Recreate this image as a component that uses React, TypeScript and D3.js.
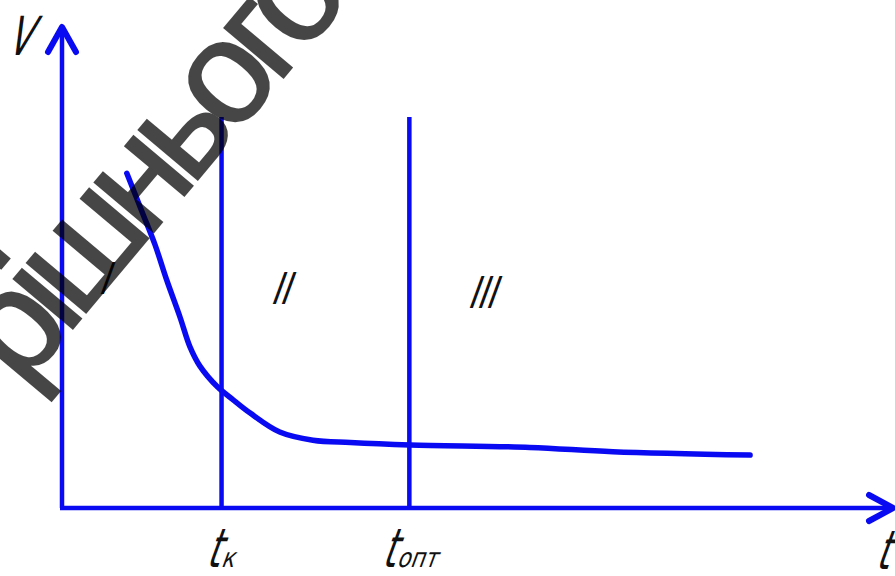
import React from "react";
import * as d3 from "d3";

// Curve V(t): sampled points of the dependency
const tValues = [7.8, 9.7, 11.2, 12.6, 14.2, 15.4, 16.6, 18.7, 20.6, 22.6, 26.2, 30.2, 34.7, 41.9, 56.3, 66.3, 82.8];
const vValues = [69.6, 61.3, 54.7, 47.4, 39.7, 33.5, 29.5, 25.2, 22.5, 19.8, 15.8, 14.1, 13.6, 13.1, 12.6, 11.7, 11.0];

// Characteristic moments (vertical lines) and their subscripts
const markerSubs = ["к", "опт"];
const markerT = [19.2, 41.8];
const markerTop = 81.3;

// Zone labels
const zoneNames = ["I", "II", "III"];
const zoneT = [4.3, 25.0, 48.7];
const zoneV = [44.5, 42.5, 41.6];

const axisNameV = "V";
const axisNameT = "t";
const stampText = "рішнього";

const W = 895;
const H = 576;
const BLUE = "#0a0af2";

const x = d3.scaleLinear().domain([0, 100]).range([62, 893]);
const y = d3.scaleLinear().domain([0, 100]).range([508, 27]);

const curve = d3
  .line<number>()
  .x((_, i) => x(tValues[i]))
  .y((d) => y(d))
  .curve(d3.curveCatmullRom.alpha(0.5));

const FONT = "'DejaVu Sans', sans-serif";

// Narrow slanted lettering in the style of drafting fonts
function Letter({
  px,
  py,
  size,
  children,
  sx = 0.62,
}: {
  px: number;
  py: number;
  size: number;
  children: React.ReactNode;
  sx?: number;
}) {
  return (
    <text
      transform={`translate(${px},${py}) skewX(-20) scale(${sx},1)`}
      fontFamily={FONT}
      fontSize={size}
      fill="#111"
    >
      {children}
    </text>
  );
}

export default function App() {
  const x0 = x(0);
  const y0 = y(0);
  const xEnd = x(100);
  const yEnd = y(100);
  return (
    <svg
      width={W}
      height={H}
      viewBox={`0 0 ${W} ${H}`}
      style={{ position: "absolute", left: 0, top: 0, background: "#fff" }}
    >
      <rect width={W} height={H} fill="#fff" />

      {/* axes */}
      <g stroke={BLUE} strokeWidth={4.5} fill="none" strokeLinecap="butt">
        <line x1={x0} y1={y0} x2={x0} y2={yEnd + 2} />
        <line x1={x0 - 2} y1={y0} x2={xEnd - 2} y2={y0} />
      </g>
      <g stroke={BLUE} strokeWidth={6} fill="none" strokeLinecap="round" strokeLinejoin="round">
        <polyline points={`${x0 - 14},${yEnd + 25} ${x0},${yEnd} ${x0 + 14},${yEnd + 25}`} />
        <polyline points={`${xEnd - 24},${y0 - 13} ${xEnd},${y0} ${xEnd - 24},${y0 + 13}`} />
      </g>

      {/* vertical markers */}
      {markerT.map((t, i) => (
        <line
          key={i}
          x1={x(t)}
          x2={x(t)}
          y1={y0}
          y2={y(markerTop)}
          stroke={BLUE}
          strokeWidth={4.5}
        />
      ))}

      {/* curve */}
      <path d={curve(vValues) || ""} fill="none" stroke={BLUE} strokeWidth={5.5} strokeLinecap="round" strokeLinejoin="round" />

      {/* zone labels */}
      {zoneNames.map((n, i) => (
        <Letter key={n} px={x(zoneT[i])} py={y(zoneV[i])} size={44} sx={0.7}>
          {n}
        </Letter>
      ))}

      {/* axis names */}
      <Letter px={6} py={55} size={54} sx={0.62}>
        {axisNameV}
      </Letter>
      {markerSubs.map((s, i) => {
        const ox = i === 0 ? -16 : -28;
        return (
          <g key={s}>
            <Letter px={x(markerT[i]) + ox} py={567} size={54} sx={0.62}>
              t
            </Letter>
            <Letter px={x(markerT[i]) + ox + 15} py={567} size={27} sx={0.8}>
              {s}
            </Letter>
          </g>
        );
      })}
      <Letter px={875} py={569} size={54} sx={0.62}>
        {axisNameT}
      </Letter>

      {/* diagonal stamp */}
      <g opacity={0.72}>
        <text
          transform="translate(22,389) rotate(-50)"
          fontFamily="'Liberation Sans', Arial, sans-serif"
          fontSize={146}
          letterSpacing={-12}
          fill="#000"
          stroke="#000"
          strokeWidth={2}
          strokeLinejoin="miter"
        >
          {stampText}
        </text>
      </g>
    </svg>
  );
}
